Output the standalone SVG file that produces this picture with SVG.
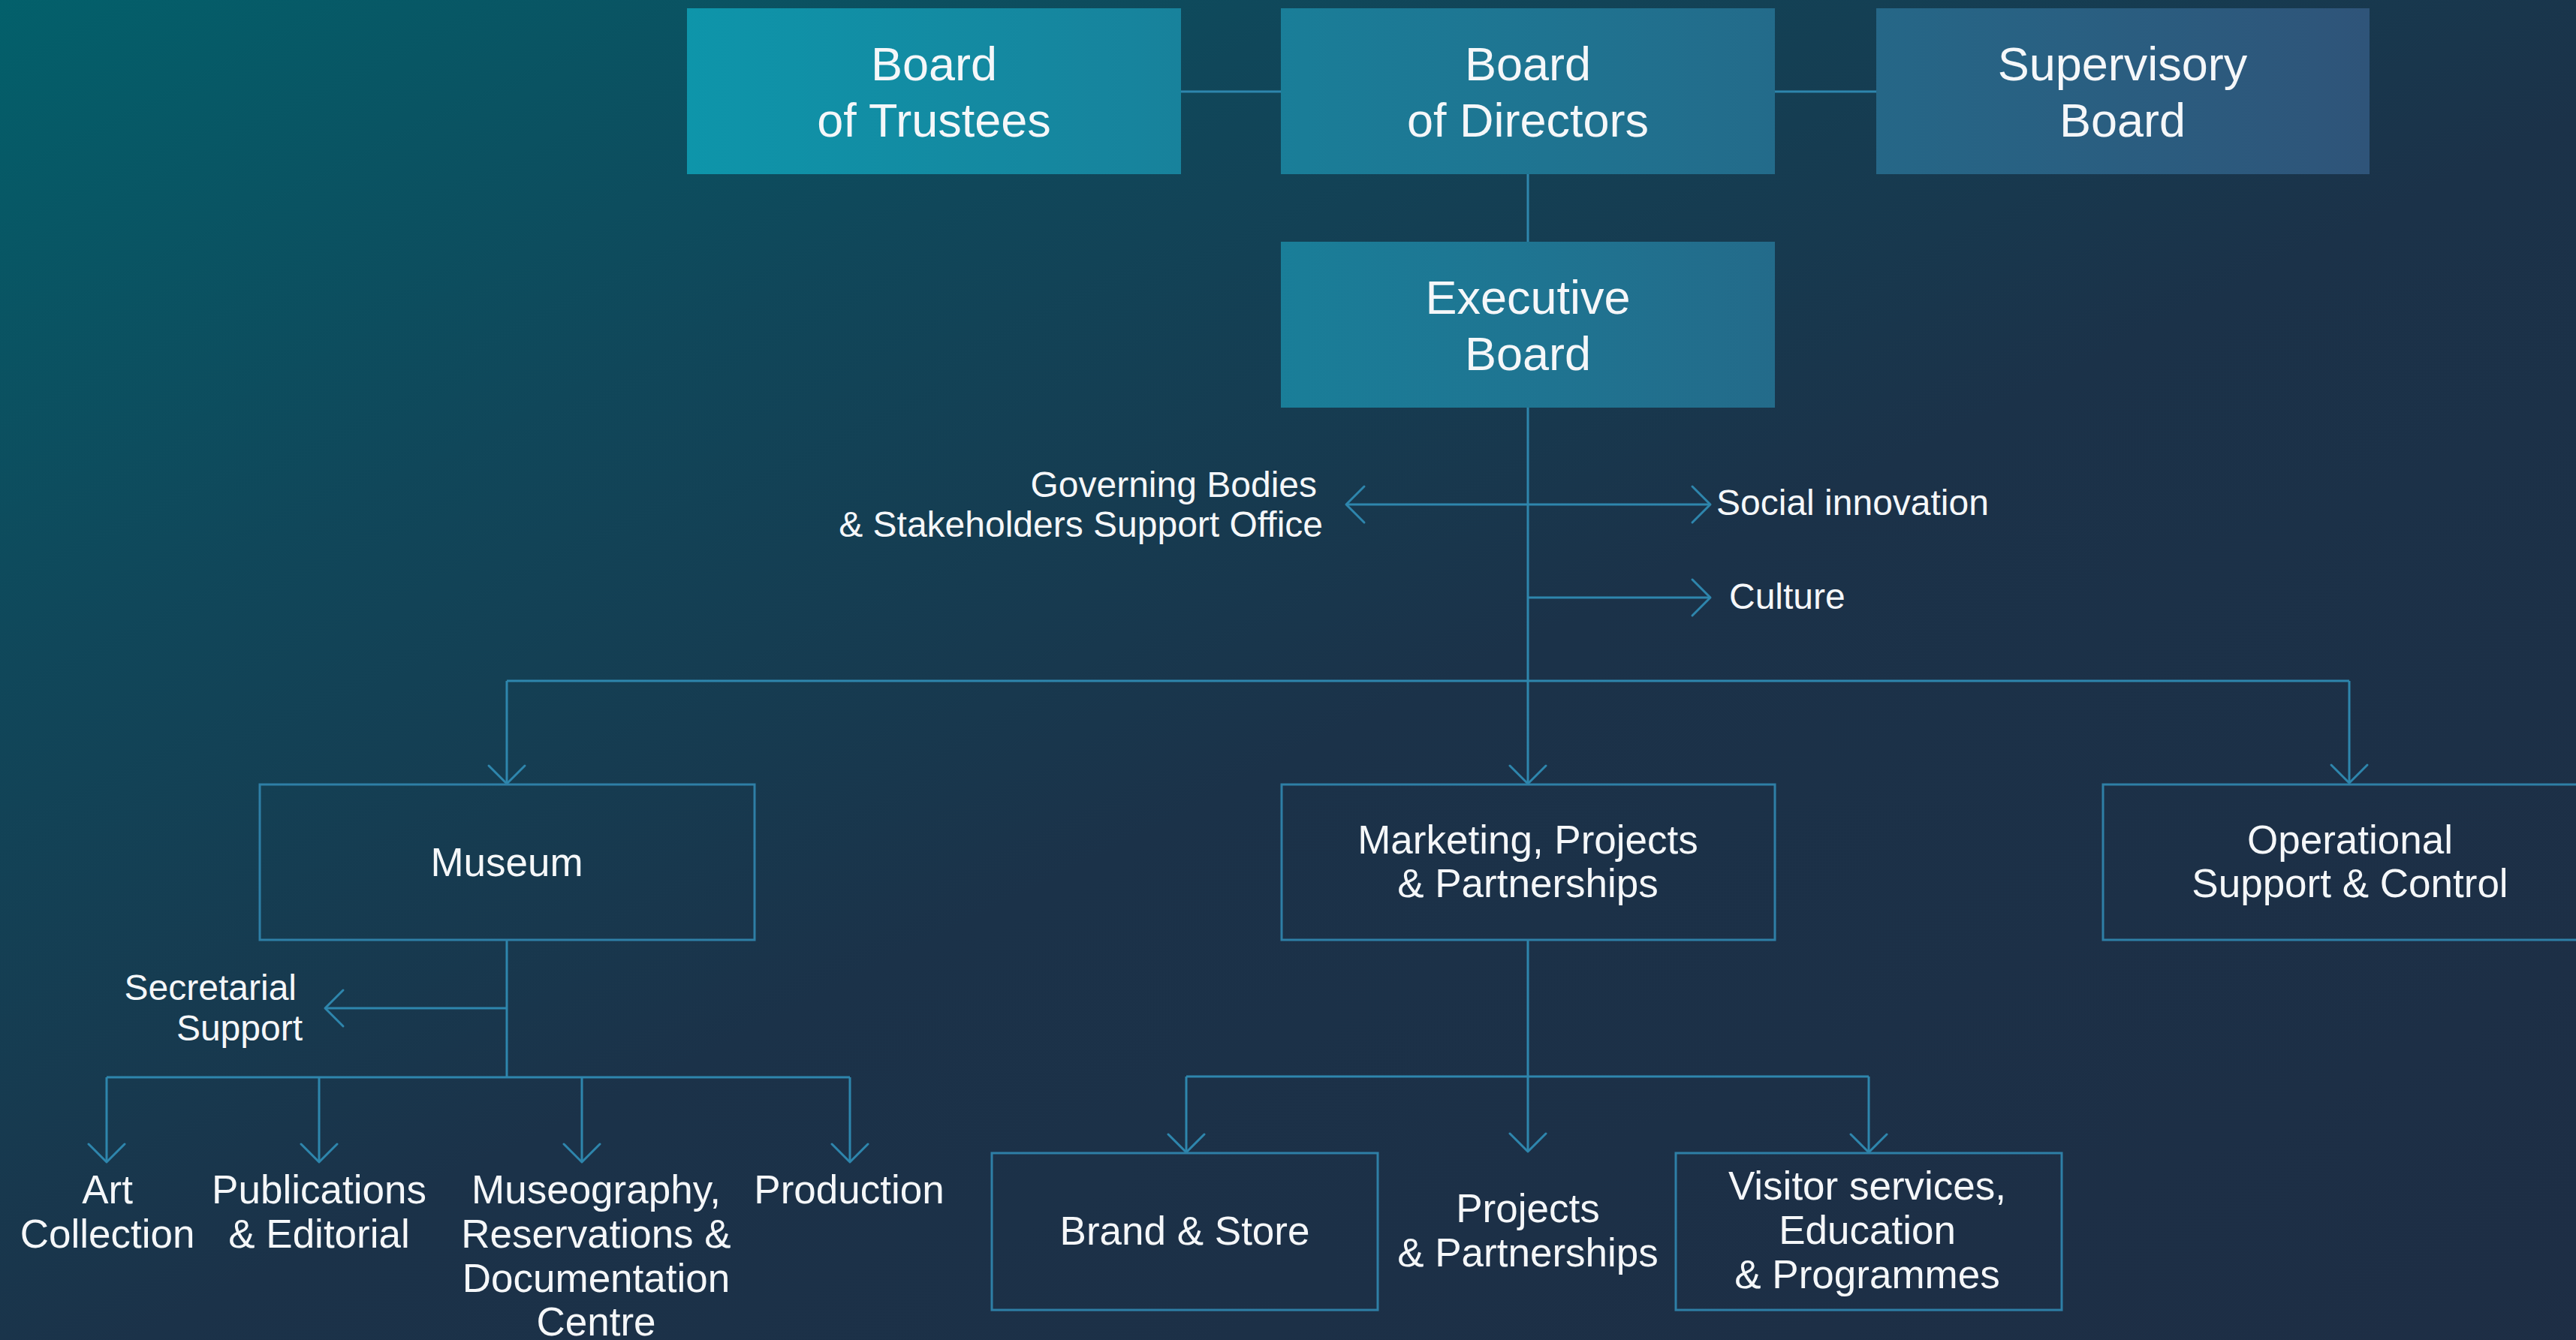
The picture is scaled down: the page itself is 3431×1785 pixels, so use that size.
<svg xmlns="http://www.w3.org/2000/svg" width="3431" height="1785" viewBox="0 0 3431 1785">
  <defs>
    <linearGradient id="bg" gradientUnits="userSpaceOnUse" x1="0" y1="0" x2="1500" y2="3000">
      <stop offset="0" stop-color="#03606b"/>
      <stop offset="0.24" stop-color="#10475a"/>
      <stop offset="0.5" stop-color="#1b3249"/>
      <stop offset="1" stop-color="#1e2d44"/>
    </linearGradient>
    <linearGradient id="boardFill" gradientUnits="userSpaceOnUse" x1="915" y1="0" x2="3156" y2="0">
      <stop offset="0" stop-color="#0e95aa"/>
      <stop offset="1" stop-color="#2f5479"/>
    </linearGradient>
    <marker id="chev" viewBox="-40 -40 80 80" markerUnits="userSpaceOnUse" markerWidth="80" markerHeight="80" refX="0" refY="0" orient="auto">
      <path d="M -24 -24 L 0 0 L -24 24" fill="none" stroke="#2e86ad" stroke-width="3" stroke-linejoin="round" stroke-linecap="round"/>
    </marker>
    <style>
      .wire { fill: none; stroke: #2e86ad; stroke-width: 3; }
      .arrow { marker-end: url(#chev); }
      .filled { fill: url(#boardFill); }
      .outline { fill: none; stroke: #2e7fa6; stroke-width: 3; }
      text { font-family: 'Liberation Sans', Arial, sans-serif; fill: #f5f7f9; }
      .big { font-size: 63px; text-anchor: middle; }
      .mid { font-size: 53px; text-anchor: middle; }
      .small { font-size: 48px; }
    </style>
  </defs>

  <rect x="0" y="0" width="3431" height="1785" fill="url(#bg)"/>

  <!-- connectors -->
  <g id="connectors">
    <path class="wire" d="M1573 122 H1706"/>
    <path class="wire" d="M2364 122 H2499"/>
    <path class="wire" d="M2035 232 V322"/>
    <path class="wire arrow" d="M2035 543 V1044"/>
    <path class="wire arrow" d="M2035 672 H1793"/>
    <path class="wire arrow" d="M2035 672 H2278"/>
    <path class="wire arrow" d="M2035 796 H2278"/>
    <path class="wire" d="M675 907 H3129"/>
    <path class="wire arrow" d="M675 907 V1044"/>
    <path class="wire arrow" d="M3129 907 V1043"/>
    <!-- museum branch -->
    <path class="wire" d="M675 1252 V1435"/>
    <path class="wire arrow" d="M675 1343 H433"/>
    <path class="wire" d="M142 1435 H1132"/>
    <path class="wire arrow" d="M142 1435 V1548"/>
    <path class="wire arrow" d="M425 1435 V1548"/>
    <path class="wire arrow" d="M775 1435 V1548"/>
    <path class="wire arrow" d="M1132 1435 V1548"/>
    <!-- marketing branch -->
    <path class="wire arrow" d="M2035 1252 V1534"/>
    <path class="wire" d="M1580 1434 H2489"/>
    <path class="wire arrow" d="M1580 1434 V1535"/>
    <path class="wire arrow" d="M2489 1434 V1535"/>
  </g>

  <!-- governing boards -->
  <g id="board-of-trustees">
    <rect class="filled" x="915" y="11" width="658" height="221"/>
    <text class="big" x="1244" y="107">Board</text>
    <text class="big" x="1244" y="182">of Trustees</text>
  </g>
  <g id="board-of-directors">
    <rect class="filled" x="1706" y="11" width="658" height="221"/>
    <text class="big" x="2035" y="107">Board</text>
    <text class="big" x="2035" y="182">of Directors</text>
  </g>
  <g id="supervisory-board">
    <rect class="filled" x="2499" y="11" width="657" height="221"/>
    <text class="big" x="2827" y="107">Supervisory</text>
    <text class="big" x="2827" y="182">Board</text>
  </g>
  <g id="executive-board">
    <rect class="filled" x="1706" y="322" width="658" height="221"/>
    <text class="big" x="2035" y="418">Executive</text>
    <text class="big" x="2035" y="493">Board</text>
  </g>

  <!-- offices attached to the executive board -->
  <g id="governing-bodies-office">
    <text class="small" x="1754" y="662" text-anchor="end">Governing Bodies</text>
    <text class="small" x="1762" y="715" text-anchor="end">&amp; Stakeholders Support Office</text>
  </g>
  <g id="social-innovation">
    <text class="small" x="2286" y="686">Social innovation</text>
  </g>
  <g id="culture">
    <text class="small" x="2303" y="811">Culture</text>
  </g>

  <!-- divisions -->
  <g id="museum">
    <rect class="outline" x="346" y="1045" width="659" height="207"/>
    <text class="mid" x="675" y="1167">Museum</text>
  </g>
  <g id="marketing-projects-partnerships">
    <rect class="outline" x="1707" y="1045" width="657" height="207"/>
    <text class="mid" x="2035" y="1137">Marketing, Projects</text>
    <text class="mid" x="2035" y="1195">&amp; Partnerships</text>
  </g>
  <g id="operational-support-control">
    <rect class="outline" x="2801" y="1045" width="659" height="207"/>
    <text class="mid" x="3130" y="1137">Operational</text>
    <text class="mid" x="3130" y="1195">Support &amp; Control</text>
  </g>

  <!-- museum departments -->
  <g id="secretarial-support">
    <text class="small" x="395" y="1332" text-anchor="end">Secretarial</text>
    <text class="small" x="403" y="1386" text-anchor="end">Support</text>
  </g>
  <g id="art-collection">
    <text class="mid" x="143" y="1603">Art</text>
    <text class="mid" x="143" y="1662">Collection</text>
  </g>
  <g id="publications-editorial">
    <text class="mid" x="425" y="1603">Publications</text>
    <text class="mid" x="425" y="1662">&amp; Editorial</text>
  </g>
  <g id="museography">
    <text class="mid" x="794" y="1603">Museography,</text>
    <text class="mid" x="794" y="1662">Reservations &amp;</text>
    <text class="mid" x="794" y="1721">Documentation</text>
    <text class="mid" x="794" y="1779">Centre</text>
  </g>
  <g id="production">
    <text class="mid" x="1131" y="1603">Production</text>
  </g>

  <!-- marketing departments -->
  <g id="brand-store">
    <rect class="outline" x="1321" y="1536" width="514" height="209"/>
    <text class="mid" x="1578" y="1658">Brand &amp; Store</text>
  </g>
  <g id="projects-partnerships">
    <text class="mid" x="2035" y="1628">Projects</text>
    <text class="mid" x="2035" y="1687">&amp; Partnerships</text>
  </g>
  <g id="visitor-services">
    <rect class="outline" x="2232" y="1536" width="514" height="209"/>
    <text class="mid" x="2487" y="1598">Visitor services,</text>
    <text class="mid" x="2487" y="1657">Education</text>
    <text class="mid" x="2487" y="1716">&amp; Programmes</text>
  </g>
</svg>
